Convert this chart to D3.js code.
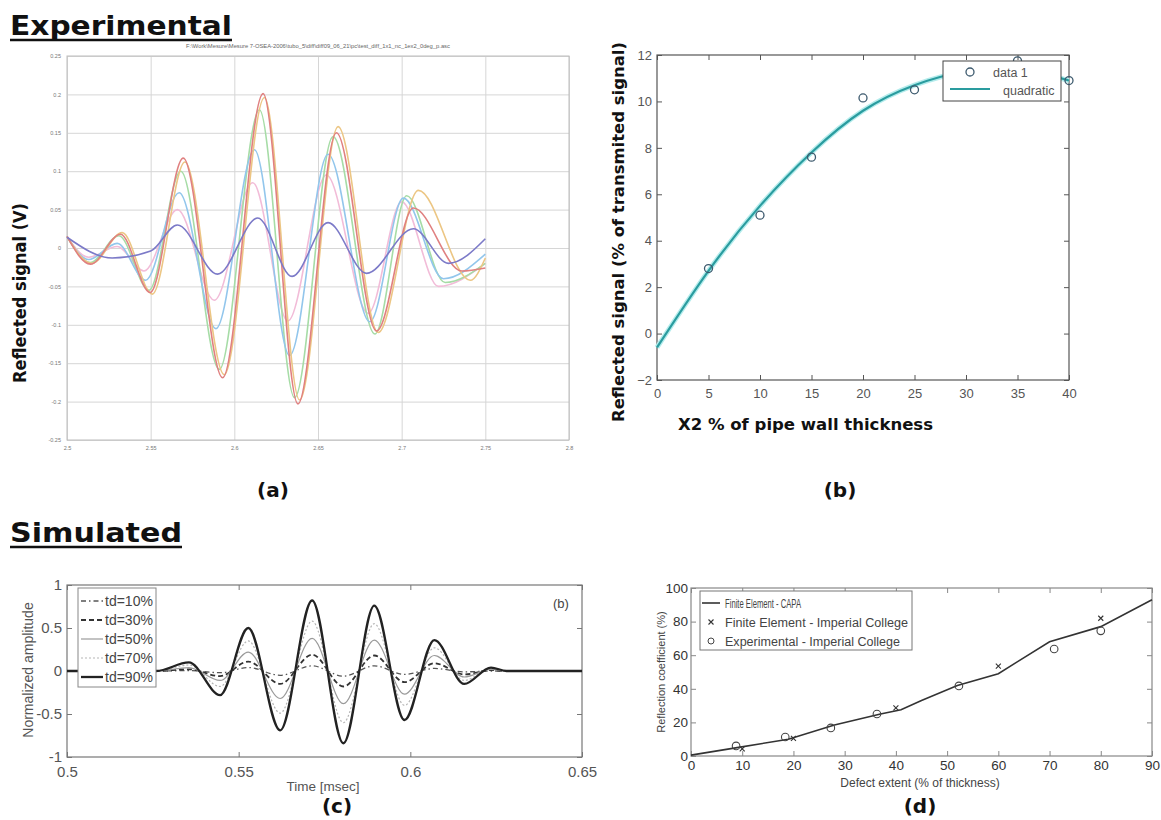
<!DOCTYPE html>
<html><head><meta charset="utf-8">
<script src="https://cdn.jsdelivr.net/npm/d3@7"></script>
<style>body{margin:0;background:#fff}svg{display:block;font-family:"Liberation Sans",Arial,sans-serif}</style>
</head><body><svg id="c" width="1161" height="820"></svg>
<script>
// ---------- Panel (a): experimental reflected signals ----------
const aXTicks = [2.5, 2.55, 2.6, 2.65, 2.7, 2.75, 2.8];
const aXLabels = ["2.5", "2.55", "2.6", "2.65", "2.7", "2.75", "2.8"];
const aYTicks = [-0.25, -0.2, -0.15, -0.1, -0.05, 0, 0.05, 0.1, 0.15, 0.2, 0.25];
const aYLabels = ["-0.25", "-0.2", "-0.15", "-0.1", "-0.05", "0", "0.05", "0.1", "0.15", "0.2", "0.25"];
const expRed = [[2.5,0.015],[2.514,-0.021],[2.532,0.018],[2.5497,-0.058],[2.5695,0.117],[2.593,-0.169],[2.6172,0.201],[2.638,-0.203],[2.661,0.150],[2.685,-0.108],[2.707,0.052],[2.736,-0.030],[2.75,-0.026]];
const expOrange = [[2.5,0.015],[2.515,-0.020],[2.533,0.020],[2.551,-0.060],[2.5705,0.112],[2.594,-0.165],[2.618,0.196],[2.639,-0.198],[2.662,0.158],[2.686,-0.110],[2.710,0.075],[2.741,-0.042],[2.75,-0.013]];
const expGreen = [[2.5,0.015],[2.514,-0.019],[2.531,0.016],[2.549,-0.055],[2.568,0.100],[2.591,-0.158],[2.615,0.180],[2.636,-0.195],[2.659,0.145],[2.684,-0.112],[2.703,0.068],[2.726,-0.045],[2.75,-0.020]];
const expBlue = [[2.5,0.015],[2.513,-0.015],[2.530,0.006],[2.547,-0.042],[2.567,0.072],[2.589,-0.105],[2.612,0.128],[2.633,-0.140],[2.656,0.122],[2.681,-0.096],[2.701,0.065],[2.725,-0.040],[2.75,-0.008]];
const expPink = [[2.5,0.015],[2.513,-0.012],[2.530,0.002],[2.546,-0.030],[2.566,0.050],[2.588,-0.068],[2.611,0.085],[2.632,-0.095],[2.655,0.095],[2.680,-0.085],[2.700,0.060],[2.722,-0.050],[2.75,-0.020]];
const expPurple = [[2.5,0.014],[2.527,-0.013],[2.55,-0.004],[2.566,0.030],[2.590,-0.034],[2.614,0.039],[2.6345,-0.037],[2.656,0.033],[2.679,-0.033],[2.707,0.025],[2.728,-0.020],[2.75,0.012]];
const expSeries = [expPink, expGreen, expBlue, expOrange, expRed, expPurple];
const expColors = ["#f2bcd8", "#a6dca6", "#92c6ec", "#ecc684", "#e08080", "#7c7ac8"];
const aFileTitle = "F:\\Work\\Mesure\\Mesure 7-OSEA-2006\\tubo_5\\diff\\diff09_06_21\\pc\\test_diff_1x1_nc_1ex2_0deg_p.asc";

// ---------- Panel (b): reflected signal vs X2 ----------
const bXTicks = [0, 5, 10, 15, 20, 25, 30, 35, 40];
const bYTicks = [-2, 0, 2, 4, 6, 8, 10, 12];
const bDataX = [5, 10, 15, 20, 25, 35, 40];
const bDataY = [2.8, 5.1, 7.6, 10.15, 10.5, 11.75, 10.9];
const bFitX = [0, 5, 10, 15, 20, 25, 30, 35, 40];
const bFitY = [-0.6, 2.7, 5.5, 7.8, 9.6, 10.7, 11.3, 11.4, 10.9];

// ---------- Panel (c): simulated normalized amplitude ----------
const cXTicks = [0.5, 0.55, 0.6, 0.65];
const cXLabels = ["0.5", "0.55", "0.6", "0.65"];
const cYTicks = [-1, -0.5, 0, 0.5, 1];
const cYLabels = ["-1", "-0.5", "0", "0.5", "1"];
const cTime = [0.5, 0.526, 0.5355, 0.5446, 0.5528, 0.5621, 0.5714, 0.5805, 0.5895, 0.5983, 0.607, 0.6157, 0.6235, 0.628, 0.65];
const td10 = [0, 0, 0.005, -0.02, 0.04, -0.05, 0.06, -0.06, 0.06, -0.04, 0.03, -0.01, 0, 0, 0];
const td30 = [0, 0, 0.02, -0.06, 0.11, -0.15, 0.19, -0.18, 0.18, -0.13, 0.09, -0.04, 0.01, 0, 0];
const td50 = [0, 0, 0.04, -0.11, 0.22, -0.32, 0.38, -0.38, 0.36, -0.27, 0.18, -0.07, 0.02, 0, 0];
const td70 = [0, 0, 0.07, -0.18, 0.35, -0.49, 0.58, -0.60, 0.55, -0.40, 0.27, -0.11, 0.03, 0, 0];
const td90 = [0, 0, 0.10, -0.28, 0.50, -0.69, 0.82, -0.84, 0.76, -0.57, 0.36, -0.15, 0.04, 0, 0];
const cNames = ["td=10%", "td=30%", "td=50%", "td=70%", "td=90%"];

// ---------- Panel (d): reflection coefficient vs defect extent ----------
const dXTicks = [0, 10, 20, 30, 40, 50, 60, 70, 80, 90];
const dYTicks = [0, 20, 40, 60, 80, 100];
const dCapaX = [0, 9, 19, 28, 37, 41, 45, 52, 60, 70, 80, 90];
const dCapaY = [0.5, 5, 10, 18.5, 25, 27.5, 33, 42, 49, 68, 77, 93];
const dFeX = [10, 20, 40, 60, 80];
const dFeY = [4.3, 10.5, 28.6, 53.5, 82];
const dExpX = [8.8, 18.4, 27.3, 36.3, 52.3, 70.9, 80];
const dExpY = [6, 11.3, 16.7, 25, 41.7, 63.7, 74.5];
const dNames = ["Finite Element - CAPA", "Finite Element - Imperial College", "Experimental - Imperial College"];

const WIDE = "DejaVu Sans, Verdana, sans-serif";
const svg = d3.select("#c");
svg.append("rect").attr("width", 1161).attr("height", 820).attr("fill", "#fff");

function matlabAxes(g, x, y, xt, yt, xfmt, yfmt, col, fs, padX, padY) {
  const [x0, x1] = x.range(), [y0, y1] = y.range();
  const style = s => {
    s.select(".domain").remove();
    s.selectAll(".tick line").attr("stroke", col);
    s.selectAll(".tick text").attr("fill", col).attr("font-size", fs).attr("font-family", "Liberation Sans, Arial, sans-serif");
  };
  g.append("g").attr("transform", `translate(0,${y0})`).call(d3.axisBottom(x).tickValues(xt).tickSize(-5).tickPadding(padX).tickFormat(xfmt)).call(style);
  g.append("g").attr("transform", `translate(0,${y1})`).call(d3.axisTop(x).tickValues(xt).tickSize(-5).tickFormat("")).call(style);
  g.append("g").attr("transform", `translate(${x0},0)`).call(d3.axisLeft(y).tickValues(yt).tickSize(-5).tickPadding(padY).tickFormat(yfmt)).call(style);
  g.append("g").attr("transform", `translate(${x1},0)`).call(d3.axisRight(y).tickValues(yt).tickSize(-5).tickFormat("")).call(style);
  g.append("rect").attr("x", x0).attr("y", y1).attr("width", x1 - x0).attr("height", y0 - y1)
    .attr("fill", "none").attr("stroke", col).attr("stroke-width", 1.2);
}
function boldLabel(g, txt, tr, size, len, anchor) {
  return g.append("text").attr("transform", tr).attr("text-anchor", anchor || "start")
    .attr("font-family", WIDE).attr("font-size", size).attr("font-weight", "bold").attr("fill", "#111")
    .attr("textLength", len).attr("lengthAdjust", "spacingAndGlyphs").text(txt);
}

// Section titles
function sectionTitle(txt, x, y, len) {
  boldLabel(svg, txt, `translate(${x},${y})`, 27, len);
  svg.append("line").attr("x1", x).attr("x2", x + len).attr("y1", y + 5).attr("y2", y + 5).attr("stroke", "#111").attr("stroke-width", 2.5);
}
sectionTitle("Experimental", 10, 35, 222);
sectionTitle("Simulated", 10, 542, 172);

// ===== Panel (a) =====
const ax = d3.scaleLinear().domain([2.5, 2.8]).range([67, 569]);
const ay = d3.scaleLinear().domain([-0.25, 0.25]).range([440, 56]);
const gA = svg.append("g");
gA.append("g").attr("transform", "translate(0,440)")
  .call(d3.axisBottom(ax).tickValues(aXTicks).tickSize(-384).tickPadding(6).tickFormat((d, i) => aXLabels[i]))
  .call(s => { s.select(".domain").remove(); s.selectAll(".tick line").attr("stroke", "#d6d6d6");
    s.selectAll(".tick text").attr("fill", "#777").attr("font-size", 5.5); });
gA.append("g").attr("transform", "translate(67,0)")
  .call(d3.axisLeft(ay).tickValues(aYTicks).tickSize(-502).tickPadding(6).tickFormat((d, i) => aYLabels[i]))
  .call(s => { s.select(".domain").remove(); s.selectAll(".tick line").attr("stroke", "#d6d6d6");
    s.selectAll(".tick text").attr("fill", "#777").attr("font-size", 5.5); });
gA.append("rect").attr("x", 67).attr("y", 56).attr("width", 502).attr("height", 384).attr("fill", "none").attr("stroke", "#bdbdbd");
const aLine = d3.line().x(d => ax(d[0])).y(d => ay(d[1])).curve(d3.curveMonotoneX);
expSeries.forEach((s, i) => {
  gA.append("path").datum(s).attr("d", aLine).attr("fill", "none").attr("stroke", expColors[i]).attr("stroke-width", 1.6);
});
gA.append("text").attr("x", 318).attr("y", 48).attr("text-anchor", "middle").attr("font-size", 5.8).attr("fill", "#666").text(aFileTitle);
boldLabel(gA, "Reflected signal (V)", "translate(26,293) rotate(-90)", 17, 180, "middle");
boldLabel(svg, "(a)", "translate(273,497)", 20, null, "middle");

// ===== Panel (b) =====
const bx = d3.scaleLinear().domain([0, 40]).range([657, 1069]);
const by = d3.scaleLinear().domain([-2, 12]).range([380, 55]);
const gB = svg.append("g");
matlabAxes(gB, bx, by, bXTicks, bYTicks, d3.format("d"), d3.format("d"), "#555", 13, 9, 5);
const bLine = d3.line().x((d, i) => bx(bFitX[i])).y(d => by(d)).curve(d3.curveNatural);
gB.append("path").datum(bFitY).attr("d", bLine).attr("fill", "none").attr("stroke", "#b4ecec").attr("stroke-width", 5);
gB.append("path").datum(bFitY).attr("d", bLine).attr("fill", "none").attr("stroke", "#2a9c9f").attr("stroke-width", 2.2);
gB.selectAll("circle.pt").data(bDataY).join("circle").attr("class", "pt")
  .attr("cx", (d, i) => bx(bDataX[i])).attr("cy", d => by(d)).attr("r", 4)
  .attr("fill", "none").attr("stroke", "#3d5a6e").attr("stroke-width", 1.3);
// legend
gB.append("rect").attr("x", 943).attr("y", 61).attr("width", 118).attr("height", 40).attr("fill", "#fff").attr("stroke", "#444").attr("stroke-width", 1);
gB.append("circle").attr("cx", 970).attr("cy", 72).attr("r", 4).attr("fill", "none").attr("stroke", "#3d5a6e").attr("stroke-width", 1.3);
gB.append("text").attr("x", 993).attr("y", 77).attr("font-size", 12.5).attr("fill", "#555").text("data 1");
gB.append("line").attr("x1", 950).attr("x2", 990).attr("y1", 89).attr("y2", 89).attr("stroke", "#2a9c9f").attr("stroke-width", 2.2);
gB.append("text").attr("x", 1003).attr("y", 95).attr("font-size", 12.5).attr("fill", "#555").text("quadratic");
boldLabel(gB, "Reflected signal (% of transmited signal)", "translate(624,232) rotate(-90)", 16, 380, "middle");
boldLabel(gB, "X2 % of pipe wall thickness", "translate(678,430)", 16, 255);
boldLabel(svg, "(b)", "translate(840,497)", 20, null, "middle");

// ===== Panel (c) =====
const cx = d3.scaleLinear().domain([0.5, 0.65]).range([67, 582]);
const cy = d3.scaleLinear().domain([-1, 1]).range([757, 585]);
const gC = svg.append("g");
matlabAxes(gC, cx, cy, cXTicks, cYTicks, (d, i) => cXLabels[i], (d, i) => cYLabels[i], "#777", 15, 9, 5);
gC.selectAll(".tick text").attr("fill", "#555");
const cStyles = [
  {c: "#555", w: 1.3, dash: "5,3,1.5,3"},
  {c: "#333", w: 1.8, dash: "5,3"},
  {c: "#9a9a9a", w: 1.2, dash: null},
  {c: "#b5b5b5", w: 1.2, dash: "2,2"},
  {c: "#222", w: 2.3, dash: null}
];
const cSeries = [td10, td30, td50, td70, td90];
const cLine = d3.line().x((d, i) => cx(cTime[i])).y(d => cy(d)).curve(d3.curveMonotoneX);
cSeries.forEach((s, i) => {
  gC.append("path").datum(s).attr("d", cLine).attr("fill", "none").attr("stroke", cStyles[i].c)
    .attr("stroke-width", cStyles[i].w).attr("stroke-dasharray", cStyles[i].dash);
});
gC.append("rect").attr("x", 78).attr("y", 588).attr("width", 78).attr("height", 99).attr("fill", "#fff").attr("stroke", "#888");
cNames.forEach((n, i) => {
  const yy = 601 + i * 19;
  gC.append("line").attr("x1", 81).attr("x2", 103).attr("y1", yy).attr("y2", yy).attr("stroke", cStyles[i].c)
    .attr("stroke-width", cStyles[i].w).attr("stroke-dasharray", cStyles[i].dash);
  gC.append("text").attr("x", 105).attr("y", yy + 5).attr("font-size", 14).attr("fill", "#444").text(n);
});
gC.append("text").attr("x", 553).attr("y", 608).attr("font-size", 13).attr("fill", "#444").text("(b)");
gC.append("text").attr("transform", "translate(33,670) rotate(-90)").attr("text-anchor", "middle").attr("font-size", 14).attr("fill", "#555").text("Normalized amplitude");
gC.append("text").attr("x", 323).attr("y", 791).attr("text-anchor", "middle").attr("font-size", 13.5).attr("fill", "#555").text("Time [msec]");
boldLabel(svg, "(c)", "translate(337,813)", 20, null, "middle");

// ===== Panel (d) =====
const dx = d3.scaleLinear().domain([0, 90]).range([691, 1152]);
const dy = d3.scaleLinear().domain([0, 100]).range([756, 588]);
const gD = svg.append("g");
matlabAxes(gD, dx, dy, dXTicks, dYTicks, d3.format("d"), d3.format("d"), "#888", 13.5, 4, 3);
gD.selectAll(".tick text").attr("fill", "#333");
const dLine = d3.line().x((d, i) => dx(dCapaX[i])).y(d => dy(d));
gD.append("path").datum(dCapaY).attr("d", dLine).attr("fill", "none").attr("stroke", "#333").attr("stroke-width", 1.6);
const xMark = (g, px, py) => {
  g.append("path").attr("d", `M${px - 2.5},${py - 2.5}L${px + 2.5},${py + 2.5}M${px - 2.5},${py + 2.5}L${px + 2.5},${py - 2.5}`)
    .attr("stroke", "#333").attr("stroke-width", 1.1);
};
dFeY.forEach((v, i) => xMark(gD, dx(dFeX[i]), dy(v)));
gD.selectAll("circle.ex").data(dExpY).join("circle").attr("class", "ex")
  .attr("cx", (d, i) => dx(dExpX[i])).attr("cy", d => dy(d)).attr("r", 3.8)
  .attr("fill", "none").attr("stroke", "#444").attr("stroke-width", 1.1);
gD.append("rect").attr("x", 700).attr("y", 591).attr("width", 212).attr("height", 59).attr("fill", "#fff").attr("stroke", "#777");
const dLens = [76, 183, 175];
dNames.forEach((n, i) => {
  const yy = 603 + i * 19;
  if (i === 0) gD.append("line").attr("x1", 702).attr("x2", 720).attr("y1", yy).attr("y2", yy).attr("stroke", "#333").attr("stroke-width", 1.6);
  if (i === 1) xMark(gD, 711, yy);
  if (i === 2) gD.append("circle").attr("cx", 711).attr("cy", yy).attr("r", 3).attr("fill", "none").attr("stroke", "#444");
  gD.append("text").attr("x", 725).attr("y", yy + 4.5).attr("font-size", 12).attr("fill", "#444")
    .attr("textLength", dLens[i]).attr("lengthAdjust", "spacingAndGlyphs").text(n);
});
gD.append("text").attr("transform", "translate(665,672) rotate(-90)").attr("text-anchor", "middle").attr("font-size", 11).attr("fill", "#444").text("Reflection coefficient (%)");
gD.append("text").attr("x", 920).attr("y", 787).attr("text-anchor", "middle").attr("font-size", 12).attr("fill", "#444").text("Defect extent (% of thickness)");
boldLabel(svg, "(d)", "translate(920,813)", 20, null, "middle");
</script></body></html>
